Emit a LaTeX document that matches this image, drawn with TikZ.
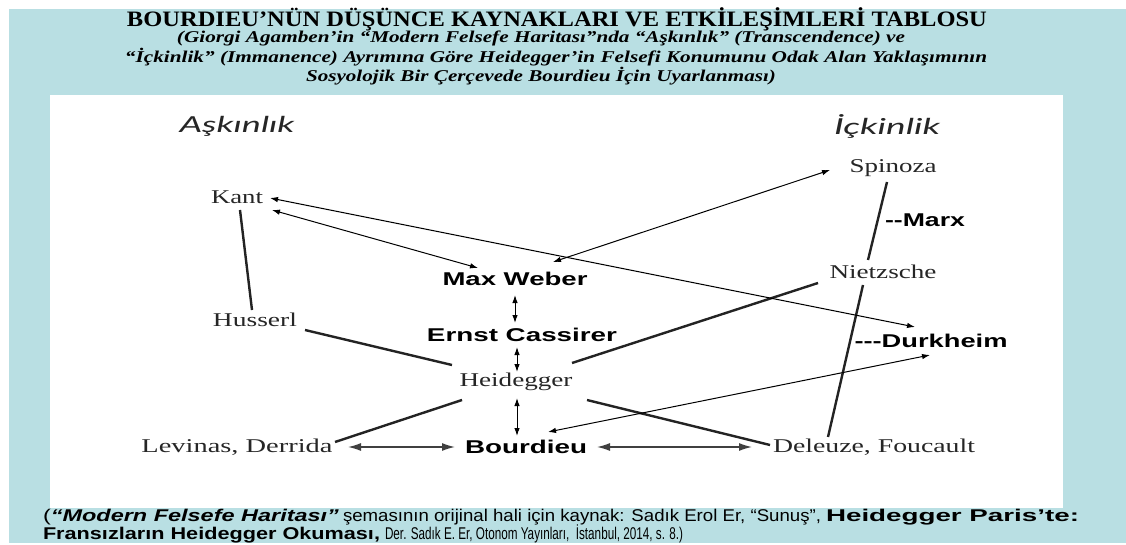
\documentclass[tikz,border=0pt]{standalone}
\usepackage{graphicx}
\usepackage{fontspec}
\setmainfont{Liberation Serif}
\setsansfont{Liberation Sans}
\newfontfamily\latofont{Lato}
\usetikzlibrary{arrows.meta,calc}
\newcommand{\fitw}[2]{\resizebox{#1}{\height}{#2}}
\definecolor{bgblue}{RGB}{185,223,227}
\definecolor{txtgray}{RGB}{38,38,38}
\definecolor{linegray}{RGB}{35,35,35}
\tikzset{
  every node/.style={inner sep=0pt, outer sep=0pt},
  headtitle/.style={font=\fontsize{22}{26}\selectfont\bfseries, text=black},
  headsub/.style={font=\fontsize{16.5}{20}\selectfont\bfseries\itshape, text=black},
  sidehead/.style={font=\latofont\itshape\fontsize{22}{26}\selectfont, text=txtgray},
  serifname/.style={font=\fontsize{19.5}{23}\selectfont, text=txtgray},
  sansname/.style={font=\sffamily\bfseries\fontsize{18.5}{22}\selectfont, text=black},
  footline/.style={font=\sffamily\fontsize{17}{20}\selectfont, text=black, anchor=west},
  thickline/.style={line width=2.4pt, draw=linegray},
  thinarrow/.style={line width=1.0pt, draw=black, {Latex[length=8pt,width=5.5pt]}-{Latex[length=8pt,width=5.5pt]}},
  bigarrow/.style={line width=1.4pt, draw=black!75, {Latex[length=13pt,width=8pt]}-{Latex[length=13pt,width=8pt]}}
}
\begin{document}
\begin{tikzpicture}[x=1pt,y=-1pt]
\useasboundingbox (0,0) rectangle (1126,545);
\fill[white] (0,0) rectangle (1126,545);
\fill[bgblue] (9,9) rectangle (1126,543);
\fill[white] (50,95) rectangle (1063,508);

% header
\node[headtitle] (t1) at (557,19) {\fitw{860pt}{BOURDIEU’NÜN DÜŞÜNCE KAYNAKLARI VE ETKİLEŞİMLERİ TABLOSU}};
\node[headsub] (t2) at (541,38.5) {\fitw{728pt}{(Giorgi Agamben’in “Modern Felsefe Haritası”nda “Aşkınlık” (Transcendence) ve}};
\node[headsub] (t3) at (556,57.5) {\fitw{862pt}{“İçkinlik” (Immanence) Ayrımına Göre Heidegger’in Felsefi Konumunu Odak Alan Yaklaşımının}};
\node[headsub] (t4) at (541,76.5) {\fitw{470pt}{Sosyolojik Bir Çerçevede Bourdieu İçin Uyarlanması)}};

% diagram nodes
\node[sidehead] (ask) at (237,126) {\fitw{115pt}{Aşkınlık}};
\node[sidehead] (ick) at (887,126) {\fitw{106pt}{İçkinlik}};
\node[serifname] (kant) at (237,197) {\fitw{52pt}{Kant}};
\node[serifname] (spinoza) at (893,168) {\fitw{87pt}{Spinoza}};
\node[serifname] (nietzsche) at (883,272) {\fitw{107pt}{Nietzsche}};
\node[serifname] (husserl) at (255,320) {\fitw{84pt}{Husserl}};
\node[serifname] (heidegger) at (516,382) {\fitw{113pt}{Heidegger}};
\node[serifname] (levinas) at (237,447) {\fitw{191pt}{Levinas, Derrida}};
\node[serifname] (deleuze) at (874,447) {\fitw{202pt}{Deleuze, Foucault}};
\node[sansname] (weber) at (515,279) {\fitw{145pt}{Max Weber}};
\node[sansname] (cassirer) at (522,335) {\fitw{190pt}{Ernst Cassirer}};
\node[sansname] (bourdieu) at (526,447) {\fitw{122pt}{Bourdieu}};
\node[sansname] (marx) at (925,220) {\fitw{80pt}{-{}-Marx}};
\node[sansname] (durkheim) at (931,341) {\fitw{153pt}{-{}-{}-Durkheim}};

% thick lines
\draw[thickline] ($(kant.center)+(3,13)$) -- ($(husserl.center)+(-3,-10)$);
\draw[thickline] ($(husserl.center)+(50,10)$) -- ($(heidegger.center)+(-64,-17)$);
\draw[thickline] ($(heidegger.center)+(-54,18)$) -- ($(levinas.center)+(98,-5)$);
\draw[thickline] ($(heidegger.center)+(56,-19)$) -- ($(nietzsche.center)+(-65,11)$);
\draw[thickline] ($(heidegger.center)+(71,18)$) -- ($(deleuze.center)+(-104,-2)$);
\draw[thickline] ($(spinoza.center)+(-6,14)$) -- ($(nietzsche.center)+(-15,-12)$);
\draw[thickline] ($(nietzsche.center)+(-20,13)$) -- ($(deleuze.center)+(-46,-10)$);

% thin double arrows
\draw[thinarrow] ($(kant.center)+(35,13)$) -- ($(weber.center)+(-37,-11)$);
\draw[thinarrow] ($(kant.center)+(33,1)$) -- ($(durkheim.center)+(-16,-14)$);
\draw[thinarrow] ($(weber.center)+(38,-17)$) -- ($(spinoza.center)+(-63,2)$);
\draw[thinarrow] ($(weber.center)+(0,16)$) -- ($(cassirer.center)+(-7,-12)$);
\draw[thinarrow] ($(cassirer.center)+(-5,12)$) -- ($(heidegger.center)+(1,-10)$);
\draw[thinarrow] ($(heidegger.center)+(1,16)$) -- ($(bourdieu.center)+(-9,-11)$);
\draw[thinarrow] ($(bourdieu.center)+(22,-15)$) -- ($(durkheim.center)+(-1,14)$);

% horizontal arrows
\draw[bigarrow] ($(levinas.center)+(111,0)$) -- ($(bourdieu.center)+(-71,0)$);
\draw[bigarrow] ($(bourdieu.center)+(71,0)$) -- ($(deleuze.center)+(-122,0)$);

% footer
\node[footline] (f1) at (43,517) {\fitw{296pt}{(\textbf{\textit{“Modern Felsefe Haritası”}}}\hspace{4pt}\fitw{478pt}{şemasının orijinal hali için kaynak: Sadık Erol Er, “Sunuş”,}\hspace{5pt}\fitw{253pt}{\textbf{Heidegger Paris’te:}}};
\node[footline] (f2) at (43,534) {\fitw{337pt}{\textbf{Fransızların Heidegger Okuması,}}\hspace{5pt}\fitw{298pt}{Der. Sadık E. Er, Otonom Yayınları,\ \ İstanbul, 2014, s. 8.)}};
\end{tikzpicture}
\end{document}
